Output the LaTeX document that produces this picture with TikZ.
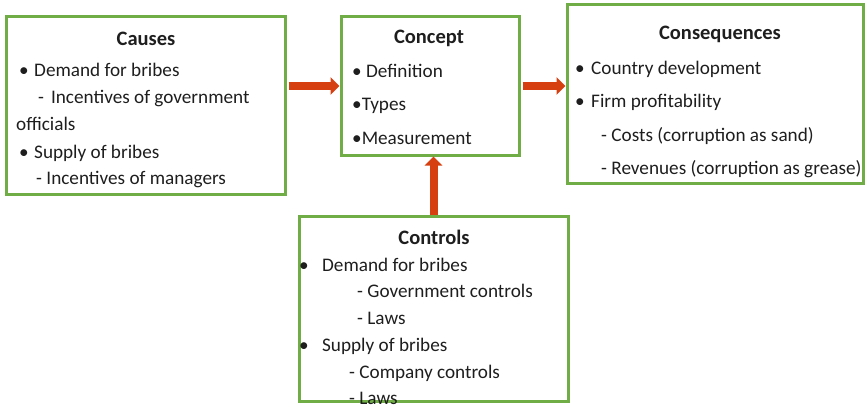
\documentclass[tikz,border=0pt]{standalone}
\usepackage{fontspec}
\setmainfont{Carlito}
\usetikzlibrary{arrows.meta,positioning}

\definecolor{boxgreen}{RGB}{112,173,71}
\definecolor{flowred}{RGB}{214,64,16}
\definecolor{ink}{RGB}{30,30,30}
\newcommand{\bul}[1][15pt]{\makebox[#1][l]{•}}

\begin{document}
\begin{tikzpicture}[x=1pt,y=-1pt,
    box/.style={draw=boxgreen,line width=3pt,inner sep=0pt},
    title/.style={anchor=base,inner sep=0pt,font=\fontsize{20.5}{24}\selectfont\bfseries,text=ink},
    item/.style={anchor=base west,inner sep=0pt,font=\fontsize{19.2}{23}\selectfont,text=ink},
    flow/.style={draw=flowred,line width=8pt,-{Triangle[width=17pt,length=9pt]}}]
  \useasboundingbox (0,0) rectangle (867,409);

  % the four boxes
  \node[box,minimum width=279pt,minimum height=177pt] (causes) at (145.5,105.5) {};
  \node[box,minimum width=178pt,minimum height=138pt] (concept) at (430,86) {};
  \node[box,minimum width=296pt,minimum height=178pt] (conseq) at (715,94) {};
  \node[box,minimum width=269pt,minimum height=185pt] (controls) at (433.5,308.5) {};

  % headings
  \node[title] (causes-title) at (146,46) {Causes};
  \node[title] (concept-title) at (429,44) {Concept};
  \node[title] (conseq-title) at (720,40) {Consequences};
  \node[title] (controls-title) at (434,244) {Controls};

  % list entries
  \foreach \x/\y/\t [count=\i] in {19/77/{\bul Demand for bribes},
      38/104/{-\hspace{7pt}Incentives of government}, 16/131/{officials},
      19/158/{\bul Supply of bribes}, 36/184/{- Incentives of managers}}
    \node[item] (causes-\i) at (\x,\y) {\t};
  \foreach \x/\y/\t [count=\i] in {352/78/{• Definition}, 352/111/{•Types},
      352/144/{•Measurement}}
    \node[item] (concept-\i) at (\x,\y) {\t};
  \foreach \x/\y/\t [count=\i] in {575/75/{\bul[16pt]Country development},
      575/108/{\bul[16pt]Firm profitability}, 601/142/{- Costs (corruption as sand)},
      601/174/{- Revenues (corruption as grease)}}
    \node[item] (conseq-\i) at (\x,\y) {\t};
  \foreach \x/\y/\t [count=\i] in {299/271/{\bul[23pt]Demand for bribes},
      357/297/{- Government controls}, 357/324/{- Laws},
      299/351/{\bul[23pt]Supply of bribes}, 349/378/{- Company controls},
      349/404/{- Laws}}
    \node[item] (controls-\i) at (\x,\y) {\t};

  % arrows into and out of the concept
  \draw[flow,shorten <=2pt] (causes.east |- concept.west) -- (concept.west);
  \draw[flow,shorten <=2pt] (concept.east) -- (conseq.west |- concept.east);
  \draw[flow] (controls.north) -- (controls.north |- concept.south);
\end{tikzpicture}
\end{document}
